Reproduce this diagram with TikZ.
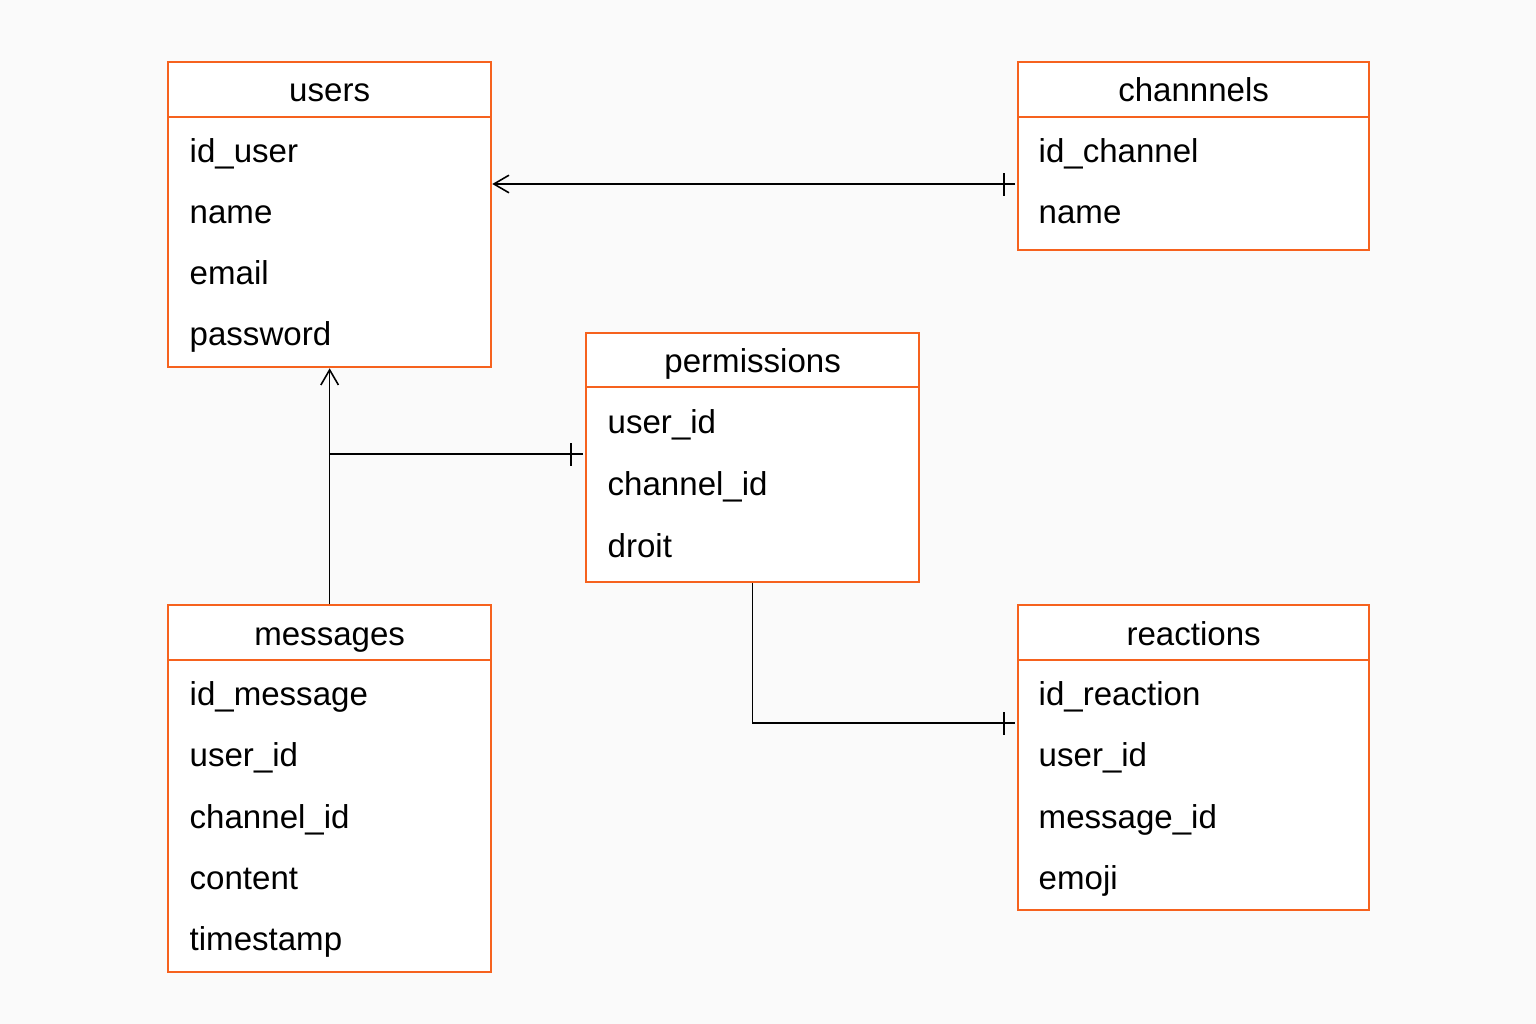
\documentclass[tikz,border=0pt]{standalone}
\usepackage{fontspec}
\setmainfont{Liberation Sans}
\usetikzlibrary{arrows.meta}
\definecolor{tblorange}{RGB}{246,98,30}
\definecolor{bgpaper}{RGB}{250,250,250}
\newcommand{\fieldfont}{\fontsize{9.4}{11}\selectfont}
\tikzset{
  tbl/.style={draw=tblorange, fill=white, line width=0.6pt, anchor=north west, inner sep=0pt},
  hdr/.style={draw=tblorange, line width=0.6pt},
  ttl/.style={anchor=base, font=\fieldfont, inner sep=0pt},
  fld/.style={anchor=base west, font=\fieldfont, inner sep=0pt},
  conn/.style={draw=black, line width=0.45pt},
  tip/.style={-{Straight Barb[length=4.3pt, width=5pt]}},
}
\begin{document}
\begin{tikzpicture}[x=0.01cm, y=-0.01cm]
   \fill[bgpaper] (0,0) rectangle (1536,1024);
   \useasboundingbox (0,0) rectangle (1536,1024);
   % tables
   \node[tbl, minimum width=3.23cm, minimum height=3.05cm] (users) at (167,61) {};
   \node[tbl, minimum width=3.51cm, minimum height=1.88cm] (chan) at (1017,61) {};
   \node[tbl, minimum width=3.33cm, minimum height=2.49cm] (perm) at (585,332) {};
   \node[tbl, minimum width=3.23cm, minimum height=3.67cm] (msg) at (167,604) {};
   \node[tbl, minimum width=3.51cm, minimum height=3.05cm] (react) at (1017,604) {};
   \draw[hdr] (users.west |- 0,117) -- (users.east |- 0,117);
   \draw[hdr] (chan.west |- 0,117) -- (chan.east |- 0,117);
   \draw[hdr] (perm.west |- 0,387) -- (perm.east |- 0,387);
   \draw[hdr] (msg.west |- 0,660) -- (msg.east |- 0,660);
   \draw[hdr] (react.west |- 0,660) -- (react.east |- 0,660);
   % titles
   \node[ttl] (users-t) at (users.north |- 0,101) {users};
   \node[ttl] (chan-t) at (chan.north |- 0,101) {channnels};
   \node[ttl] (perm-t) at (perm.north |- 0,372) {permissions};
   \node[ttl] (msg-t) at (msg.north |- 0,645) {messages};
   \node[ttl] (react-t) at (react.north |- 0,645) {reactions};
   % fields
   \node[fld] (users-1) at (189,162) {id\_user};
   \node[fld] (users-2) at (189,223) {name};
   \node[fld] (users-3) at (189,284) {email};
   \node[fld] (users-4) at (189,345) {password};
   \node[fld] (chan-1) at (1038,162) {id\_channel};
   \node[fld] (chan-2) at (1038,223) {name};
   \node[fld] (perm-1) at (607,433) {user\_id};
   \node[fld] (perm-2) at (607,495) {channel\_id};
   \node[fld] (perm-3) at (607,557) {droit};
   \node[fld] (msg-1) at (189,705) {id\_message};
   \node[fld] (msg-2) at (189,766) {user\_id};
   \node[fld] (msg-3) at (189,828) {channel\_id};
   \node[fld] (msg-4) at (189,889) {content};
   \node[fld] (msg-5) at (189,950) {timestamp};
   \node[fld] (react-1) at (1038,705) {id\_reaction};
   \node[fld] (react-2) at (1038,766) {user\_id};
   \node[fld] (react-3) at (1038,828) {message\_id};
   \node[fld] (react-4) at (1038,889) {emoji};
   % links
   \coordinate (join) at (users.south |- 0,454);
   \draw[conn, tip] ([xshift=-0.02cm]chan.west |- 0,184) -- (users.east |- 0,184);
   \draw[conn, tip] (msg.north) -- (users.south);
   \draw[conn] (join) -- ([xshift=-0.02cm]perm.west |- join);
   \draw[conn] (perm.south) |- ([xshift=-0.02cm]react.west |- 0,723);
   % bars
   \draw[conn, line width=0.55pt] ([xshift=-0.13cm]chan.west |- 0,173) -- ([xshift=-0.13cm]chan.west |- 0,196);
   \draw[conn, line width=0.55pt] ([xshift=-0.14cm]perm.west |- 0,443) -- ([xshift=-0.14cm]perm.west |- 0,466);
   \draw[conn, line width=0.55pt] ([xshift=-0.13cm]react.west |- 0,712) -- ([xshift=-0.13cm]react.west |- 0,735);
\end{tikzpicture}
\end{document}
